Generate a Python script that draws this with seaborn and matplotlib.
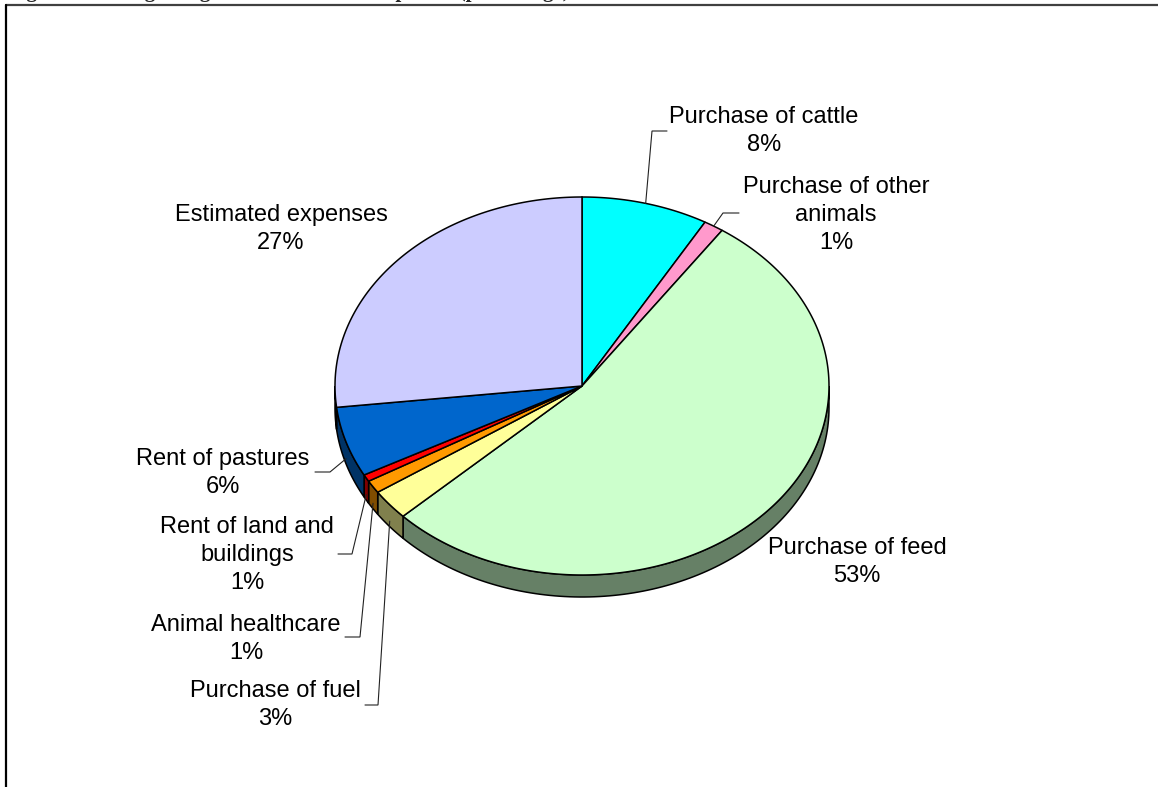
import numpy as np
import matplotlib
matplotlib.use("Agg")
import matplotlib.pyplot as plt
import seaborn as sns
from matplotlib.colors import to_rgb

# Intermediate expenses by item (percentage of total)
categories = [
    "Purchase of cattle",
    "Purchase of other\nanimals",
    "Purchase of feed",
    "Purchase of fuel",
    "Animal healthcare",
    "Rent of land and\nbuildings",
    "Rent of pastures",
    "Estimated expenses",
]
shares = [8.3, 1.3, 53.3, 2.6, 1.1, 0.6, 6.0, 26.8]
face_colors = ["#00FFFF", "#FF99CC", "#CCFFCC", "#FFFF99",
               "#FF9900", "#FF0000", "#0066CC", "#CCCCFF"]

title_text = "Figure 8. Average weight of intermediate expenses (percentage)"

# Layout of the label blocks (text centre) and their leader lines (elbow, end)
label_pos = [(764, 131), (836, 215), (857, 562), (275, 705),
             (246, 639), (247, 555), (223, 473), (281, 229)]
leader_pts = [((652, 131), (667, 131)), ((723, 213), (739, 213)), None,
              ((378, 705), (365, 705)), ((360, 637), (345, 637)),
              ((352, 554), (338, 554)), ((330, 472), (315, 472)), None]

sns.set_theme(style="white")
plt.rcParams["font.family"] = ["Liberation Sans", "DejaVu Sans"]

W, H = 1158, 787
fig = plt.figure(figsize=(W / 100, H / 100), dpi=100)
ax = fig.add_axes([0, 0, 1, 1])
ax.set_xlim(0, W)
ax.set_ylim(H, 0)
ax.axis("off")

# 3-D pie geometry: elliptical top face plus a visible front rim
cx, cy, rx, ry, depth = 582, 386, 247, 189, 22


def rim(theta_deg, dy=0.0):
    t = np.radians(theta_deg)
    return cx + rx * np.sin(t), cy - ry * np.cos(t) + dy


vals = np.asarray(shares, dtype=float)
bounds = np.concatenate([[0], np.cumsum(vals)]) / vals.sum() * 360.0

# side walls of the slices facing the viewer
for i, col in enumerate(face_colors):
    a0, a1 = bounds[i], bounds[i + 1]
    lo, hi = max(a0, 90.0), min(a1, 270.0)
    if lo >= hi:
        continue
    t = np.linspace(lo, hi, 120)
    xt, yt = rim(t)
    xb, yb = rim(t[::-1], depth)
    side = tuple(c * 0.5 for c in to_rgb(col))
    ax.fill(np.concatenate([xt, xb]), np.concatenate([yt, yb]),
            facecolor=side, edgecolor="black", linewidth=1.1, zorder=2)

# top faces
for i, col in enumerate(face_colors):
    a0, a1 = bounds[i], bounds[i + 1]
    t = np.linspace(a0, a1, max(int((a1 - a0) * 2), 8))
    xa, ya = rim(t)
    ax.fill(np.concatenate([[cx], xa]), np.concatenate([[cy], ya]),
            facecolor=col, edgecolor="black", linewidth=1.1,
            joinstyle="miter", zorder=3)

# labels with leader lines
for i, name in enumerate(categories):
    pct = f"{int(round(vals[i] / vals.sum() * 100))}%"
    tx, ty = label_pos[i]
    ax.text(tx, ty, f"{name}\n{pct}", ha="center", va="center",
            multialignment="center", fontsize=17, linespacing=1.38,
            color="black", zorder=5)
    if leader_pts[i] is not None:
        mid = 0.5 * (bounds[i] + bounds[i + 1])
        dy = depth * 0.75 if 90 < mid < 270 else 0.0
        axx, ayy = rim(mid, dy)
        (ex, ey), (fx, fy) = leader_pts[i]
        ax.plot([axx, ex, fx], [ayy, ey, fy], color="#222222",
                linewidth=0.8, zorder=4, solid_joinstyle="miter")

# page frame and the heading running above it
ax.plot([6, W + 5], [5, 5], color="#404040", linewidth=1.6, clip_on=False)
ax.plot([6, 6], [5, H + 5], color="black", linewidth=1.6, clip_on=False)
ax.text(8, -2.5, title_text, ha="left", va="baseline", fontsize=15,
        fontweight="bold", family=["Liberation Serif", "DejaVu Serif"],
        clip_on=False)

fig.savefig("out.png", dpi=100, facecolor="white")
